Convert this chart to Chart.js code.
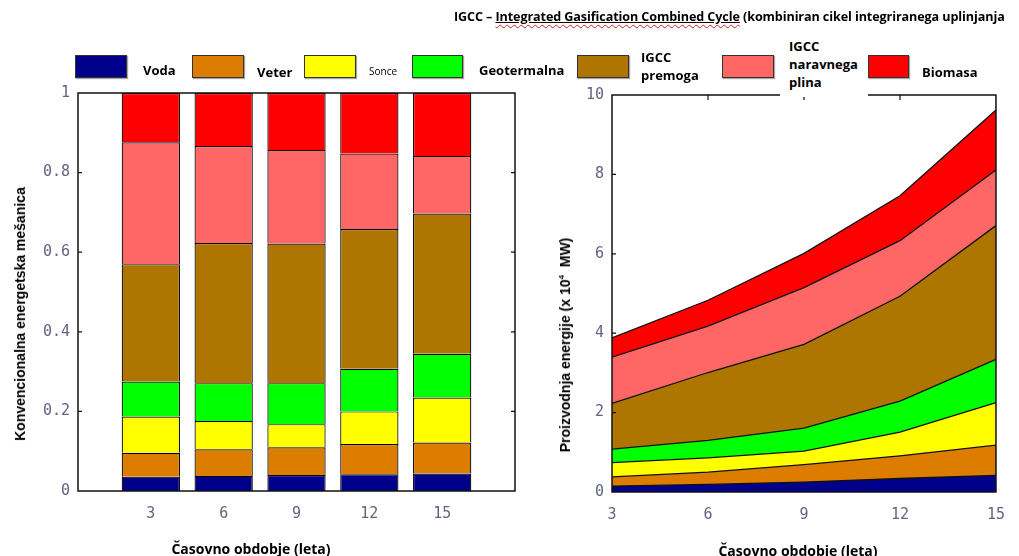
<!DOCTYPE html>
<html lang="sl">
<head>
  <meta charset="UTF-8" />
  <title>Energetska mešanica</title>
  <script src="https://cdn.jsdelivr.net/npm/chart.js"></script>
  <style>
    html, body { margin: 0; padding: 0; background: #fff; }
    body { width: 1019px; height: 556px; position: relative; overflow: hidden; font-family: "Open Sans", sans-serif; color: #000; }
    .abs { position: absolute; }
    #naslov { left: 454px; top: 8px; font-size: 12.6px; font-weight: 700; white-space: nowrap; z-index: 3; letter-spacing: -0.1px; }
    #naslov .val { text-decoration: underline wavy #e02020; text-decoration-thickness: 1px; text-underline-offset: 3px; }
    #naslov .crta { text-decoration: underline; text-underline-offset: 1px; }
    .skatla { height: 21px; border: 1.5px solid #333; box-shadow: 1px 1px 1px rgba(0,0,0,0.35); z-index: 3; }
    .oznaka { font-size: 13px; font-weight: 700; line-height: 18px; white-space: pre-line; transform: translateY(-50%); z-index: 3; }
    .yos { font-family: "Liberation Sans", Arial, sans-serif; font-weight: 700; font-size: 14px; white-space: nowrap; transform: translate(-50%, -50%) rotate(-90deg); z-index: 3; }
    .yos sup { font-size: 8px; }
    .xos { font-weight: 700; font-size: 14px; white-space: nowrap; transform: translate(-50%, -50%); z-index: 3; }
    #levo { left: 0; top: 0; width: 540px; height: 556px; }
    #desno { left: 540px; top: 0; width: 479px; height: 556px; }
  </style>
</head>
<body>

  <div id="naslov" class="abs">IGCC – <span class="val"><span class="crta">Integrated Gasification Combined Cycle</span></span> (kombiniran cikel integriranega uplinjanja</div>
  <div id="legenda"></div>

  <div class="abs" id="levo"><canvas id="graf-delez"></canvas></div>
  <div class="abs" id="desno"><canvas id="graf-moc"></canvas></div>

  <div class="abs yos" style="left:20px; top:314px;">Konvencionalna energetska mešanica</div>
  <div class="abs yos" style="left:565px; top:345px;">Proizvodnja energije (x 10<sup>4</sup>&nbsp; MW)</div>
  <div class="abs xos" style="left:251px; top:548px;">Časovno obdobje (leta)</div>
  <div class="abs xos" style="left:798px; top:550px;">Časovno obdobje (leta)</div>

  <script>
    // podatki
    const leta = [3, 6, 9, 12, 15];
    const viri = ['Voda', 'Veter', 'Sonce', 'Geotermalna', 'IGCC\npremoga', 'IGCC\nnaravnega\nplina', 'Biomasa'];
    const barve = ['#00008b', '#dc7d00', '#ffff00', '#00ff00', '#ae7600', '#ff6666', '#ff0000'];

    // delez v energetski mesanici (levo)
    const delVoda    = [0.036, 0.038, 0.040, 0.042, 0.044];
    const delVeter   = [0.060, 0.067, 0.070, 0.076, 0.078];
    const delSonce   = [0.091, 0.071, 0.058, 0.082, 0.113];
    const delGeo     = [0.088, 0.095, 0.103, 0.107, 0.110];
    const delPremog  = [0.295, 0.352, 0.351, 0.351, 0.352];
    const delPlin    = [0.306, 0.244, 0.235, 0.190, 0.145];
    const delBiomasa = [0.124, 0.133, 0.143, 0.152, 0.158];

    // proizvodnja (x 10^4 MW, desno)
    const mwVoda    = [0.15, 0.19, 0.25, 0.34, 0.42];
    const mwVeter   = [0.23, 0.31, 0.44, 0.57, 0.76];
    const mwSonce   = [0.36, 0.36, 0.34, 0.60, 1.07];
    const mwGeo     = [0.34, 0.44, 0.58, 0.78, 1.09];
    const mwPremog  = [1.15, 1.71, 2.11, 2.64, 3.37];
    const mwPlin    = [1.17, 1.17, 1.43, 1.40, 1.40];
    const mwBiomasa = [0.48, 0.65, 0.86, 1.13, 1.51];

    const deleži = [delVoda, delVeter, delSonce, delGeo, delPremog, delPlin, delBiomasa];
    const moci = [mwVoda, mwVeter, mwSonce, mwGeo, mwPremog, mwPlin, mwBiomasa];

    // legenda (pozicije posebej)
    const legX = [75, 192, 304, 412, 577, 722, 868];
    const legW = [53, 53, 53, 52, 53, 53, 42];
    const tekstX = [143, 257, 369, 479, 641, 789, 922];
    const tekstY = [70, 72, 71, 70, 66, 64, 72];

    const leg = document.getElementById('legenda');
    viri.forEach((ime, i) => {
      const s = document.createElement('div');
      s.className = 'abs skatla';
      s.style.cssText = `left:${legX[i]}px; top:55px; width:${legW[i] - 3}px; background:${barve[i]};`;
      leg.appendChild(s);
      const t = document.createElement('div');
      t.className = 'abs oznaka';
      t.style.left = tekstX[i] + 'px';
      t.style.top = tekstY[i] + 'px';
      if (ime === 'Sonce') { t.style.fontSize = '10px'; t.style.fontWeight = '400'; }
      if (i === 5) {
        // bel okvir besedila prekrije zgornji rob desnega grafa
        t.style.background = '#fff';
        t.style.left = '780px';
        t.style.width = '88px';
        t.style.paddingLeft = '9px';
        t.style.boxSizing = 'border-box';
        t.style.paddingBottom = '6px';
        t.style.top = '67px';
      }
      t.textContent = ime;
      leg.appendChild(t);
    });

    const pisava = { family: '"DejaVu Sans Mono", monospace', size: 15 };
    const barvaOznak = '#5f6480';

    const okvir = {
      id: 'okvir',
      afterDatasetsDraw(chart, args, opts) {
        const { ctx, chartArea: a, scales } = chart;
        ctx.save();
        ctx.strokeStyle = '#111';
        ctx.lineWidth = 1.5;
        ctx.strokeRect(a.left, a.top, a.right - a.left, a.bottom - a.top);
        ctx.lineWidth = 1.2;
        ctx.beginPath();
        scales.y.ticks.forEach(t => {
          const y = scales.y.getPixelForValue(t.value);
          if (y <= a.top + 1 || y >= a.bottom - 1) return;
          ctx.moveTo(a.left, y); ctx.lineTo(a.left + 4, y);
          if (opts.desno) { ctx.moveTo(a.right, y); ctx.lineTo(a.right - 4, y); }
        });
        if (opts.zgoraj) {
          scales.x.ticks.forEach((t, i) => {
            const x = scales.x.getPixelForTick(i);
            if (x <= a.left + 1 || x >= a.right - 1) return;
            ctx.moveTo(x, a.top); ctx.lineTo(x, a.top + 5);
          });
        }
        ctx.stroke();
        ctx.restore();
      }
    };

    function fiksno(px) {
      return s => { if (s.isHorizontal()) s.height = px; else s.width = px; };
    }

    // levi graf - stolpci
    new Chart(document.getElementById('graf-delez'), {
      type: 'bar',
      data: {
        labels: ['', ...leta.map(String), ''],
        datasets: viri.map((ime, i) => ({
          label: ime,
          data: [null, ...deleži[i], null],
          backgroundColor: barve[i],
          borderColor: '#000',
          borderWidth: 1.2,
          barPercentage: 0.8,
          categoryPercentage: 1
        }))
      },
      options: {
        responsive: true,
        maintainAspectRatio: false,
        animation: false,
        layout: { padding: { left: 0, right: 25, top: 93, bottom: 25 } },
        plugins: { legend: { display: false }, tooltip: { enabled: false }, okvir: { desno: true } },
        scales: {
          x: {
            stacked: true,
            offset: false,
            grid: { display: false, drawTicks: false },
            border: { display: false },
            ticks: { font: pisava, color: barvaOznak, padding: 14, maxRotation: 0 },
            afterFit: fiksno(40)
          },
          y: {
            stacked: true,
            min: 0, max: 1,
            grid: { display: false, drawTicks: false },
            border: { display: false },
            ticks: {
              stepSize: 0.2, font: pisava, color: barvaOznak, padding: 8,
              callback: v => (v === 0 || v === 1) ? String(v) : v.toFixed(1)
            },
            afterFit: fiksno(78)
          }
        }
      },
      plugins: [okvir]
    });

    // desni graf - naložene ploskve
    new Chart(document.getElementById('graf-moc'), {
      type: 'line',
      data: {
        labels: leta.map(String),
        datasets: viri.map((ime, i) => ({
          label: ime,
          data: moci[i],
          backgroundColor: barve[i],
          borderColor: '#111',
          borderWidth: 1.3,
          pointRadius: 0,
          tension: 0,
          fill: i === 0 ? 'origin' : '-1'
        }))
      },
      options: {
        responsive: true,
        maintainAspectRatio: false,
        animation: false,
        layout: { padding: { left: 0, right: 12, top: 95, bottom: 24 } },
        plugins: { legend: { display: false }, tooltip: { enabled: false }, okvir: { zgoraj: true } },
        scales: {
          x: {
            offset: false,
            grid: { display: false, drawTicks: false },
            border: { display: false },
            ticks: { font: pisava, color: barvaOznak, padding: 14, maxRotation: 0 },
            afterFit: fiksno(40)
          },
          y: {
            stacked: true,
            min: 0, max: 10,
            grid: { display: false, drawTicks: false },
            border: { display: false },
            ticks: { stepSize: 2, font: pisava, color: barvaOznak, padding: 8 },
            afterFit: fiksno(72)
          }
        }
      },
      plugins: [okvir]
    });
  </script>

</body>
</html>
